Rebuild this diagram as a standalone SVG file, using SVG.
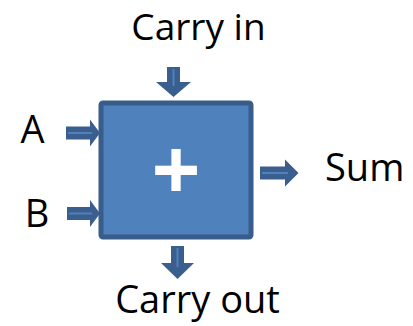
<svg xmlns="http://www.w3.org/2000/svg" width="413" height="326" viewBox="0 0 413 326">
<style>
.lbl{font-family:"Open Sans","Liberation Sans",sans-serif;font-size:38px;fill:#000}
.arr{fill:#3A5F8E}
.str{stroke:#4F81BD;stroke-width:2;fill:none}
</style>
<rect width="413" height="326" fill="#fff"/>
<g id="adder">
<rect x="101" y="103" width="150" height="134" rx="2" fill="#4F81BD" stroke="#385D8A" stroke-width="5"/>
<text x="176" y="201" text-anchor="middle" style="font-family:'Open Sans','Liberation Sans',sans-serif;font-size:86px;font-weight:bold;fill:#fff">+</text>
</g>
<g id="connectors">
<g id="arrow-carry-in">
<polygon class="arr" points="167,67 180,67 180,82 191,82 173.5,97 156,82 167,82"/>
<line class="str" x1="173.5" y1="69" x2="173.5" y2="86"/>
</g>
<g id="arrow-carry-out">
<polygon class="arr" points="171,246 184,246 184,263 194,263 177.5,279 161,263 171,263"/>
<line class="str" x1="177.5" y1="248" x2="177.5" y2="267"/>
</g>
<g id="arrow-a">
<polygon class="arr" points="66,126.5 90,126.5 90,119.5 100,133 90,146.5 90,139.5 66,139.5"/>
<line class="str" x1="68" y1="133" x2="92" y2="133"/>
</g>
<g id="arrow-b">
<polygon class="arr" points="67,207 90,207 90,200 100,213.5 90,227 90,220 67,220"/>
<line class="str" x1="69" y1="213.5" x2="92" y2="213.5"/>
</g>
<g id="arrow-sum">
<polygon class="arr" points="260,166.5 285,166.5 285,159.5 298.5,173 285,186.5 285,179.5 260,179.5"/>
<line class="str" x1="262" y1="173" x2="288" y2="173"/>
</g>
</g>
<g id="label-carry-in"><text class="lbl" x="198.5" y="40" text-anchor="middle" style="font-size:37px">Carry in</text></g>
<g id="label-carry-out"><text class="lbl" x="197.5" y="313" text-anchor="middle">Carry out</text></g>
<g id="label-a"><text class="lbl" x="32.5" y="143" text-anchor="middle">A</text></g>
<g id="label-b"><text class="lbl" x="37" y="227" text-anchor="middle">B</text></g>
<g id="label-sum"><text class="lbl" x="325" y="181">Sum</text></g>
</svg>
